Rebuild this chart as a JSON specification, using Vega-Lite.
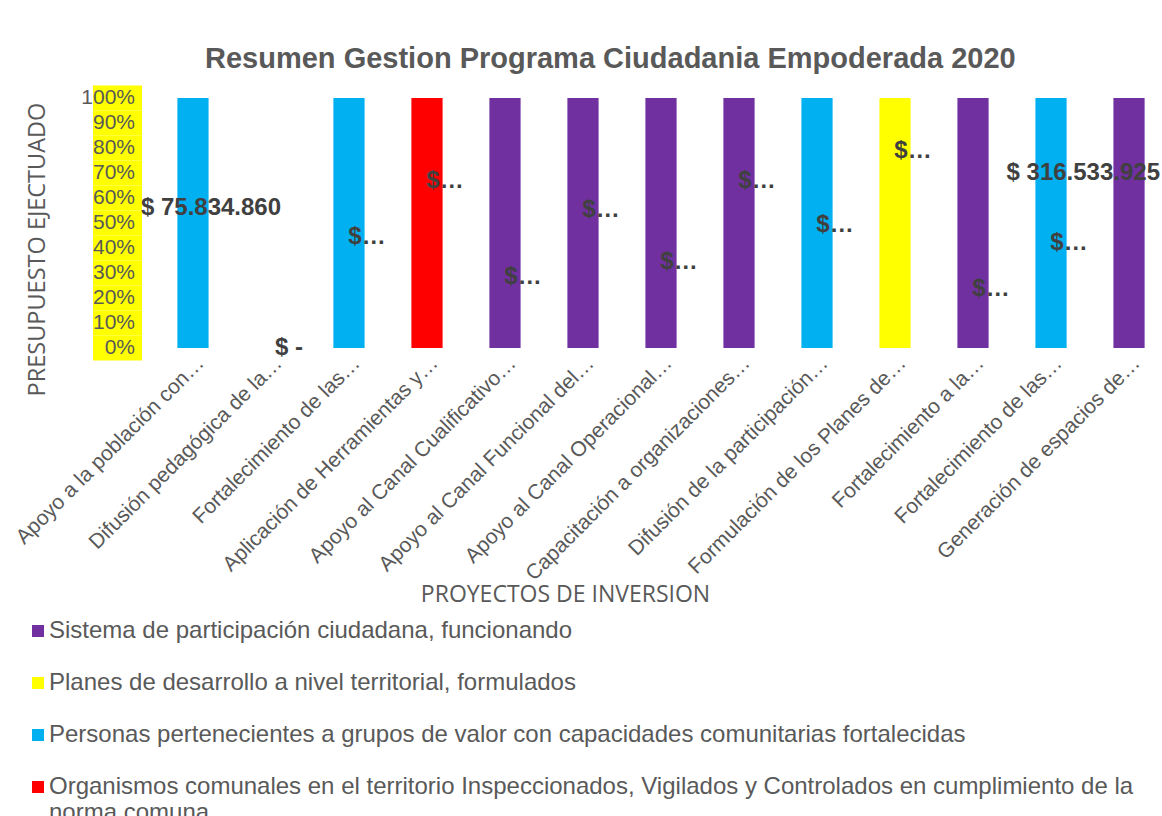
{
  "$schema": "https://vega.github.io/schema/vega-lite/v6.json",
  "background": "white",
  "padding": {"left": 11, "top": 44, "right": 0, "bottom": 0},
  "title": {
    "text": "Resumen Gestion Programa Ciudadania Empoderada 2020",
    "font": "Liberation Sans",
    "fontSize": 29,
    "fontWeight": "bold",
    "color": "#595959",
    "anchor": "middle",
    "dx": 24,
    "offset": 12
  },
  "datasets": {
    "ejes": [
      {"porcentaje": 1.0, "etiqueta": "100%"},
      {"porcentaje": 0.9, "etiqueta": "90%"},
      {"porcentaje": 0.8, "etiqueta": "80%"},
      {"porcentaje": 0.7, "etiqueta": "70%"},
      {"porcentaje": 0.6, "etiqueta": "60%"},
      {"porcentaje": 0.5, "etiqueta": "50%"},
      {"porcentaje": 0.4, "etiqueta": "40%"},
      {"porcentaje": 0.3, "etiqueta": "30%"},
      {"porcentaje": 0.2, "etiqueta": "20%"},
      {"porcentaje": 0.1, "etiqueta": "10%"},
      {"porcentaje": 0.0, "etiqueta": "0%"}
    ],
    "proyectos": [
      {"proyecto": "Apoyo a la población con…", "producto": "Personas pertenecientes a grupos de valor con capacidades comunitarias fortalecidas", "ejecutado": 1, "etiqueta": "$ 75.834.860", "nivel": 0.56},
      {"proyecto": "Difusión pedagógica de la…", "producto": "Sistema de participación ciudadana, funcionando", "ejecutado": 0, "etiqueta": "$ -", "nivel": 0.0},
      {"proyecto": "Fortalecimiento de las…", "producto": "Personas pertenecientes a grupos de valor con capacidades comunitarias fortalecidas", "ejecutado": 1, "etiqueta": "$…", "nivel": 0.444},
      {"proyecto": "Aplicación de Herramientas y…", "producto": "Organismos comunales en el territorio Inspeccionados, Vigilados y Controlados en cumplimiento de la norma comuna", "ejecutado": 1, "etiqueta": "$…", "nivel": 0.67},
      {"proyecto": "Apoyo al Canal Cualificativo…", "producto": "Sistema de participación ciudadana, funcionando", "ejecutado": 1, "etiqueta": "$…", "nivel": 0.284},
      {"proyecto": "Apoyo al Canal Funcional del…", "producto": "Sistema de participación ciudadana, funcionando", "ejecutado": 1, "etiqueta": "$…", "nivel": 0.552},
      {"proyecto": "Apoyo al Canal Operacional…", "producto": "Sistema de participación ciudadana, funcionando", "ejecutado": 1, "etiqueta": "$…", "nivel": 0.344},
      {"proyecto": "Capacitación a organizaciones…", "producto": "Sistema de participación ciudadana, funcionando", "ejecutado": 1, "etiqueta": "$…", "nivel": 0.668},
      {"proyecto": "Difusión de la participación…", "producto": "Personas pertenecientes a grupos de valor con capacidades comunitarias fortalecidas", "ejecutado": 1, "etiqueta": "$…", "nivel": 0.492},
      {"proyecto": "Formulación de los Planes de…", "producto": "Planes de desarrollo a nivel territorial, formulados", "ejecutado": 1, "etiqueta": "$…", "nivel": 0.788},
      {"proyecto": "Fortalecimiento a la…", "producto": "Sistema de participación ciudadana, funcionando", "ejecutado": 1, "etiqueta": "$…", "nivel": 0.236},
      {"proyecto": "Fortalecimiento de las…\u200b", "producto": "Personas pertenecientes a grupos de valor con capacidades comunitarias fortalecidas", "ejecutado": 1, "etiqueta": "$…", "nivel": 0.42},
      {"proyecto": "Generación de espacios de…", "producto": "Sistema de participación ciudadana, funcionando", "ejecutado": 1, "etiqueta": "$ 316.533.925", "nivel": 0.70}
    ]
  },
  "spacing": 19,
  "bounds": "flush",
  "resolve": {"scale": {"y": "independent", "x": "independent"}},
  "hconcat": [
    {
      "width": 49,
      "height": 250,
      "data": {"name": "ejes"},
      "encoding": {
        "y": {
          "field": "porcentaje",
          "type": "quantitative",
          "scale": {"domain": [0, 1], "nice": false, "zero": false},
          "axis": {
            "labels": false,
            "ticks": false,
            "domain": false,
            "grid": false,
            "title": "PRESUPUESTO EJECTUADO",
            "titleFont": "Open Sans",
            "titleFontSize": 23.5,
            "titleFontWeight": "normal",
            "titleColor": "#595959",
            "titleAngle": -90,
            "titleAlign": "center",
            "titleBaseline": "middle",
            "titleX": -56,
            "titleY": 151
          }
        }
      },
      "layer": [
        {
          "mark": {"type": "rule", "color": "#FFFF00", "strokeWidth": 25, "strokeCap": "butt"},
          "encoding": {}
        },
        {
          "mark": {"type": "text", "x": "width", "dx": -7, "align": "right", "baseline": "middle", "font": "Liberation Sans", "fontSize": 21, "color": "#595959"},
          "encoding": {"text": {"field": "etiqueta", "type": "nominal"}}
        }
      ]
    },
    {
      "width": 1000,
      "height": 250,
      "data": {"name": "proyectos"},
      "encoding": {
        "x": {
          "field": "proyecto",
          "type": "nominal",
          "sort": null,
          "scale": {"paddingInner": 0.6, "paddingOuter": 0.21},
          "axis": {
            "labelAngle": -45,
            "labelAlign": "right",
            "labelBaseline": "top",
            "labelPadding": 4,
            "labelFont": "Liberation Sans",
            "labelFontSize": 21,
            "labelColor": "#595959",
            "labelLimit": 500,
            "labelOverlap": false,
            "ticks": false,
            "domain": false,
            "grid": false,
            "title": "PROYECTOS DE INVERSION",
            "titleFont": "Open Sans",
            "titleFontSize": 23,
            "titleFontWeight": "normal",
            "titleColor": "#595959",
            "titleBaseline": "middle",
            "titleAlign": "center",
            "titleX": 404,
            "titleY": 246
          }
        }
      },
      "layer": [
        {
          "mark": {"type": "bar"},
          "encoding": {
            "y": {"field": "ejecutado", "type": "quantitative", "scale": {"domain": [0, 1], "nice": false}, "axis": null},
            "color": {
              "field": "producto",
              "type": "nominal",
              "scale": {
                "domain": [
                  "Sistema de participación ciudadana, funcionando",
                  "Planes de desarrollo a nivel territorial, formulados",
                  "Personas pertenecientes a grupos de valor con capacidades comunitarias fortalecidas",
                  "Organismos comunales en el territorio Inspeccionados, Vigilados y Controlados en cumplimiento de la norma comuna"
                ],
                "range": ["#7030A0", "#FFFF00", "#00B0F0", "#FF0000"]
              },
              "legend": {
                "orient": "none",
                "legendX": -67,
                "legendY": 521,
                "direction": "vertical",
                "title": null,
                "symbolType": "square",
                "symbolSize": 144,
                "symbolStrokeWidth": 0,
                "labelFont": "Liberation Sans",
                "labelFontSize": 24,
                "labelColor": "#595959",
                "labelOffset": -1,
                "labelLimit": 1200,
                "rowPadding": 28,
                "labelExpr": "indexof(datum.label, 'Organismos') == 0 ? ['Organismos comunales en el territorio Inspeccionados, Vigilados y Controlados en cumplimiento de la', 'norma comuna'] : datum.label"
              }
            }
          }
        },
        {
          "transform": [{"filter": "datum.proyecto != 'Generación de espacios de…'"}],
          "mark": {"type": "text", "font": "Liberation Sans", "fontSize": 24, "fontWeight": "bold", "color": "#404040", "align": "center", "baseline": "middle", "dx": 18},
          "encoding": {
            "y": {"field": "nivel", "type": "quantitative", "scale": {"domain": [0, 1], "nice": false}, "axis": null},
            "text": {"field": "etiqueta", "type": "nominal"}
          }
        },
        {
          "transform": [{"filter": "datum.proyecto == 'Generación de espacios de…'"}],
          "mark": {"type": "text", "font": "Liberation Sans", "fontSize": 24, "fontWeight": "bold", "color": "#404040", "align": "right", "baseline": "middle", "dx": 31},
          "encoding": {
            "y": {"field": "nivel", "type": "quantitative", "scale": {"domain": [0, 1], "nice": false}, "axis": null},
            "text": {"field": "etiqueta", "type": "nominal"}
          }
        }
      ]
    }
  ],
  "config": {
    "font": "Liberation Sans",
    "view": {"stroke": null},
    "axis": {"grid": false}
  }
}
